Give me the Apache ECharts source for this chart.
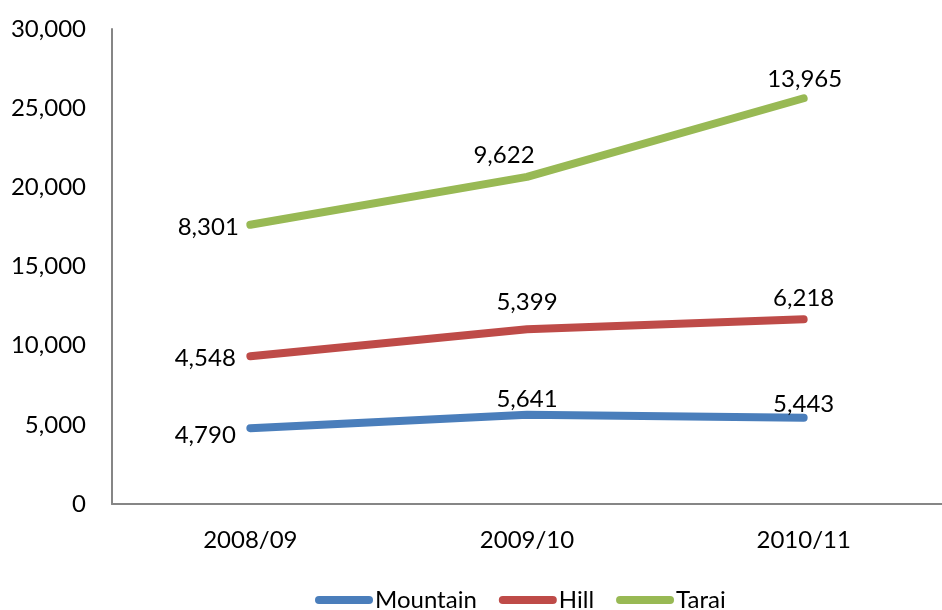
<!DOCTYPE html>
<html>
<head>
<meta charset="utf-8">
<script src="https://cdn.jsdelivr.net/npm/echarts@6/dist/echarts.min.js"></script>
<style>
  html, body { margin: 0; padding: 0; background: #fff; }
  #chart { width: 942px; height: 610px; }
</style>
</head>
<body>
<div id="chart"></div>
<script>
// Population by ecological belt, stacked lines
const categories = ['2008/09', '2009/10', '2010/11'];
const mountain = [4790, 5641, 5443];
const hill = [4548, 5399, 6218];
const tarai = [8301, 9622, 13965];
const seriesNames = ['Mountain', 'Hill', 'Tarai'];
const colors = ['#4A7EBB', '#BE4B48', '#98B954'];

// label placement per point: [position, dx, dy]
const labelPlacement = [
  [['left', -14, 7], ['inside', 0, -15], ['inside', 0, -14]],
  [['left', -14, 2], ['inside', 0, -27], ['inside', 0, -21]],
  [['left', -11, 3], ['inside', -23, -22], ['inside', 1, -19]]
];

const font = 'Lato, "Open Sans", sans-serif';
const fontSize = 24;
const fmt = v => v.toLocaleString('en-US');

function makeSeries(name, values, idx) {
  return {
    name: name,
    type: 'line',
    stack: 'total',
    data: values.map((v, i) => {
      const p = labelPlacement[idx][i];
      return {
        value: v,
        label: { position: p[0], offset: [p[1], p[2]] }
      };
    }),
    showSymbol: true,
    symbol: 'circle',
    symbolSize: 1,
    lineStyle: { width: 8, color: colors[idx], cap: 'round', join: 'round' },
    itemStyle: { color: colors[idx], borderWidth: 0 },
    label: {
      show: true,
      distance: 0,
      color: '#000',
      fontFamily: font,
      fontSize: fontSize,
      formatter: p => fmt(p.value)
    },
    emphasis: { disabled: true },
    animation: false
  };
}

const chart = echarts.init(document.getElementById('chart'), null, { renderer: 'canvas' });
chart.setOption({
  backgroundColor: '#fff',
  animation: false,
  grid: { left: 112, top: 29, bottom: 106, width: 843 },
  legend: {
    top: 583,
    left: 310,
    itemWidth: 58,
    itemHeight: 8,
    itemGap: 22,
    icon: 'path://M4,0 L54,0 A4,4 0 0 1 54,8 L4,8 A4,4 0 0 1 4,0 Z',
    textStyle: { fontFamily: font, fontSize: fontSize, color: '#000', padding: [0, 0, 0, -3] },
    data: seriesNames
  },
  xAxis: {
    type: 'category',
    data: categories,
    boundaryGap: true,
    axisLine: { lineStyle: { color: '#868686', width: 2 } },
    axisTick: { show: false },
    axisLabel: { color: '#000', fontFamily: font, fontSize: fontSize, margin: 24 }
  },
  yAxis: {
    type: 'value',
    min: 0,
    max: 30000,
    interval: 5000,
    axisLine: { show: true, lineStyle: { color: '#868686', width: 2 } },
    axisTick: { show: false },
    splitLine: { show: false },
    axisLabel: { color: '#000', fontFamily: font, fontSize: fontSize, margin: 26, formatter: fmt }
  },
  series: [
    makeSeries(seriesNames[0], mountain, 0),
    makeSeries(seriesNames[1], hill, 1),
    makeSeries(seriesNames[2], tarai, 2)
  ]
});
</script>
</body>
</html>
